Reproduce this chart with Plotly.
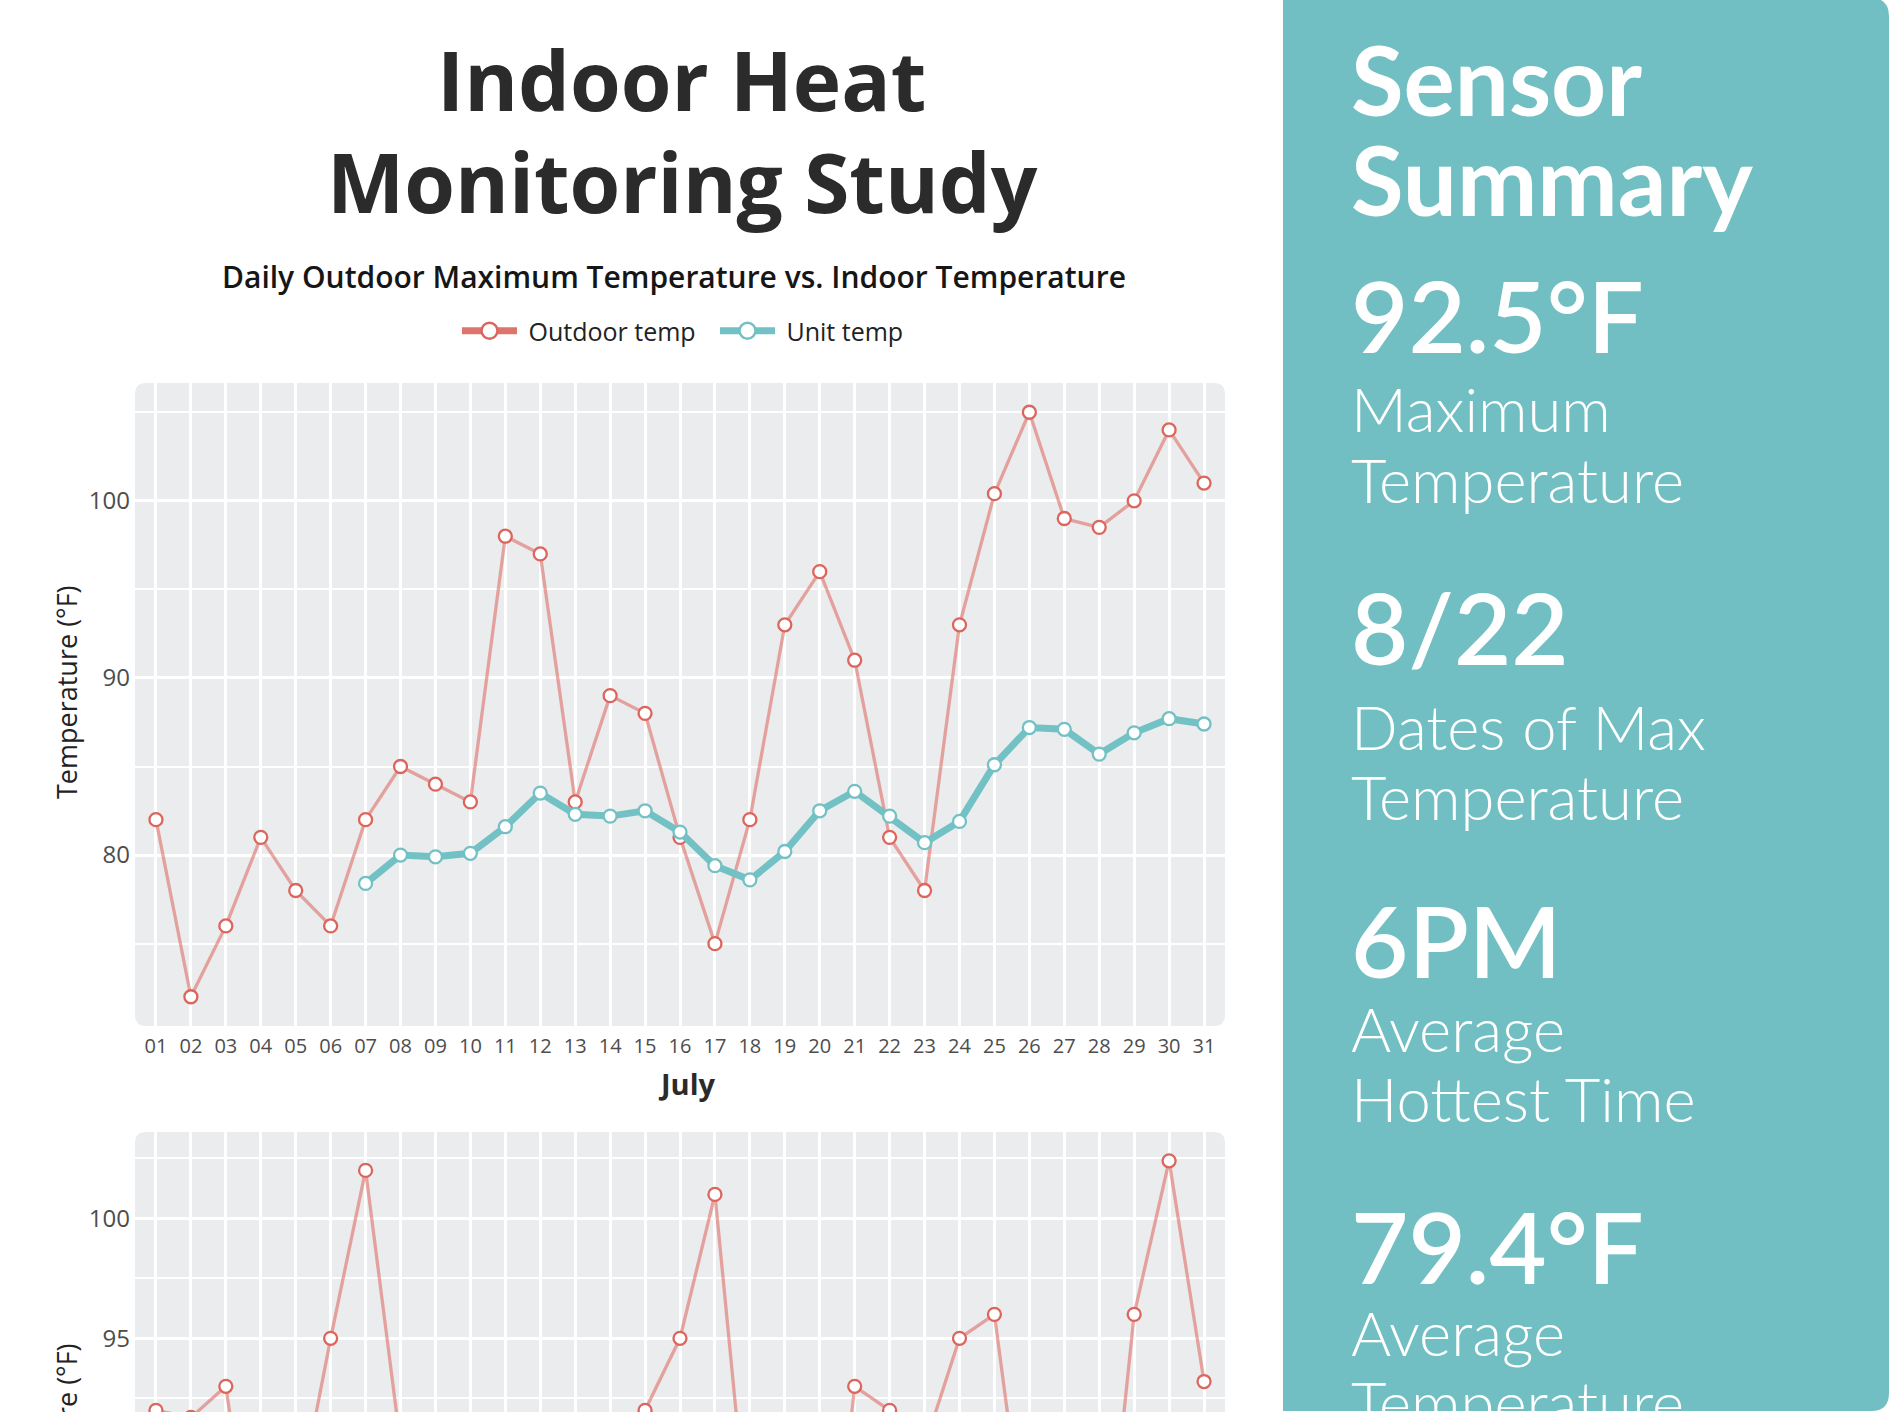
import plotly.graph_objects as go

W, H = 1891, 1412

# ---------------- data ----------------
days = list(range(1, 32))
day_labels = ["01", "02", "03", "04", "05", "06", "07", "08", "09", "10", "11", "12", "13", "14", "15", "16",
              "17", "18", "19", "20", "21", "22", "23", "24", "25", "26", "27", "28", "29", "30", "31"]

july_outdoor = [82, 72, 76, 81, 78, 76, 82, 85, 84, 83, 98, 97, 83, 89, 88, 81,
                75, 82, 93, 96, 91, 81, 78, 93, 100.4, 105, 99, 98.5, 100, 104, 101]
july_unit = [None, None, None, None, None, None, 78.4, 80.0, 79.9, 80.1, 81.6, 83.5, 82.3, 82.2, 82.5, 81.3,
             79.4, 78.6, 80.2, 82.5, 83.6, 82.2, 80.7, 81.9, 85.1, 87.2, 87.1, 85.7, 86.9, 87.7, 87.4]

second_outdoor = [92, 91.7, 93, 83, 87.5, 95, 102, 90.6, 88, 86, 89, 90, 87, 89, 92, 95,
                  101, 86, 83, 79.7, 93, 92, 90.5, 95, 96, 85, 84, 82, 96, 102.4, 93.2]

series_names = ["Outdoor temp", "Unit temp"]

summary_values = ["92.5°F", "8/22", "6PM", "79.4°F"]
summary_labels = [["Maximum", "Temperature"], ["Dates of Max", "Temperature"],
                  ["Average", "Hottest Time"], ["Average", "Temperature"]]

# ---------------- styling helpers ----------------
def fx(px):
    return px / W

def fy(py):
    return 1 - py / H

RED = "#DC655D"
RED_LINE = "rgba(221,106,98,0.58)"
TEAL = "#72C1C4"
PANEL = "#72BFC3"
PLOTBG = "#EBECEE"
TXT = "#4D4D4D"

PL, PR = 135, 1225          # plot left/right (px)
T1, B1 = 383, 1026          # top plot
T2, B2 = 1132, 1412         # second plot (cut by the page)

fig = go.Figure()

fig.add_trace(go.Scatter(
    x=days, y=july_outdoor, mode="lines+markers", name=series_names[0],
    line=dict(color=RED_LINE, width=3.3),
    marker=dict(size=13, color="white", line=dict(color=RED, width=2.3)),
    showlegend=False, xaxis="x", yaxis="y"))
fig.add_trace(go.Scatter(
    x=days, y=july_unit, mode="lines+markers", name=series_names[1],
    line=dict(color=TEAL, width=7),
    marker=dict(size=13, color="white", line=dict(color=TEAL, width=2.3)),
    showlegend=False, xaxis="x", yaxis="y"))
fig.add_trace(go.Scatter(
    x=days, y=second_outdoor, mode="lines+markers", name=series_names[0],
    line=dict(color=RED_LINE, width=3.3),
    marker=dict(size=13, color="white", line=dict(color=RED, width=2.3)),
    showlegend=False, xaxis="x2", yaxis="y2"))

# legend entries
fig.add_trace(go.Scatter(
    x=[None], y=[None], mode="lines+markers", name="\u00a0" + series_names[0],
    line=dict(color="#DD756E", width=7),
    marker=dict(size=16, color="white", line=dict(color=RED, width=2.5)),
    xaxis="x", yaxis="y"))
fig.add_trace(go.Scatter(
    x=[None], y=[None], mode="lines+markers", name="\u00a0" + series_names[1],
    line=dict(color=TEAL, width=7),
    marker=dict(size=16, color="white", line=dict(color=TEAL, width=2.5)),
    xaxis="x", yaxis="y"))

# ---------------- shapes ----------------
def rrect(x0, y0, x1, y1, r, top=True, bottom=True, left=True, right=True):
    def P(x, y):
        return f"{fx(x):.6f},{fy(y):.6f}"
    rtl = r if (top and left) else 0
    rtr = r if (top and right) else 0
    rbr = r if (bottom and right) else 0
    rbl = r if (bottom and left) else 0
    d = f"M {P(x0 + rtl, y0)} L {P(x1 - rtr, y0)} "
    if rtr:
        d += f"Q {P(x1, y0)} {P(x1, y0 + rtr)} "
    d += f"L {P(x1, y1 - rbr)} "
    if rbr:
        d += f"Q {P(x1, y1)} {P(x1 - rbr, y1)} "
    d += f"L {P(x0 + rbl, y1)} "
    if rbl:
        d += f"Q {P(x0, y1)} {P(x0, y1 - rbl)} "
    d += f"L {P(x0, y0 + rtl)} "
    if rtl:
        d += f"Q {P(x0, y0)} {P(x0 + rtl, y0)} "
    d += "Z"
    return d

shapes = [
    dict(type="path", xref="paper", yref="paper", layer="below",
         path=rrect(1283, -2, 1889, 1411, 18, left=False),
         fillcolor=PANEL, line=dict(width=0)),
    dict(type="path", xref="paper", yref="paper", layer="below",
         path=rrect(PL, T1, PR, B1, 11),
         fillcolor=PLOTBG, line=dict(width=0)),
    dict(type="path", xref="paper", yref="paper", layer="below",
         path=rrect(PL, T2, PR, B2 + 40, 11, bottom=False),
         fillcolor=PLOTBG, line=dict(width=0)),
]

# ---------------- annotations ----------------
ann = []

def text(t, x, y, size, color, family="Open Sans", weight=400, xanchor="center", angle=0):
    ann.append(dict(text=t, x=fx(x), y=fy(y), xref="paper", yref="paper",
                    xanchor=xanchor, yanchor="middle", showarrow=False, textangle=angle,
                    font=dict(family=family, size=size, color=color, weight=weight)))

text("Indoor Heat", 681, 79, 82, "#2B2B2B", weight=700)
text("Monitoring Study", 682, 181, 82, "#2B2B2B", weight=700)
text("Daily Outdoor Maximum Temperature vs. Indoor Temperature", 674, 276, 30, "#161616", weight=600)
text("July", 687, 1083, 29, "#2B2B2B", weight=700)
text("Temperature (°F)", 66, 692, 27, "#222222", angle=-90)
text("Temperature (°F)", 66, 1450, 27, "#222222", angle=-90)

# sensor summary panel
PX = 1349
text("Sensor", PX, 79, 96, "white", family="Lato", weight=700, xanchor="left")
text("Summary", PX, 178, 96, "white", family="Lato", weight=700, xanchor="left")
val_y = [314, 626, 939, 1245]
lab_y = [[408, 479], [726, 796], [1028, 1098], [1332, 1402]]
for v, vy, labs, ly in zip(summary_values, val_y, summary_labels, lab_y):
    text(v, PX, vy, 99, "white", family="Lato", weight=600, xanchor="left")
    for l, yy in zip(labs, ly):
        text(l, PX, yy, 61.5, "white", family="Lato", weight=300, xanchor="left")

# ---------------- axes ----------------
grid = dict(showgrid=True, gridcolor="white", zeroline=False, showline=False, ticks="")

fig.update_layout(
    width=W, height=H,
    margin=dict(l=0, r=0, t=0, b=0),
    paper_bgcolor="white", plot_bgcolor="rgba(0,0,0,0)",
    font=dict(family="Open Sans", color=TXT),
    shapes=shapes, annotations=ann,
    legend=dict(orientation="h", x=fx(715), y=fy(331), xanchor="center", yanchor="middle",
                font=dict(family="Open Sans", size=25, color="#222222"),
                bgcolor="rgba(0,0,0,0)", itemwidth=55, entrywidth=188, entrywidthmode="pixels"),
    xaxis=dict(domain=[fx(PL), fx(PR)], anchor="y", range=[0.4, 31.6],
               tickmode="array", tickvals=days, ticktext=day_labels, gridwidth=2.6,
               tickfont=dict(family="Open Sans", size=20, color=TXT), ticklabelstandoff=6,
               automargin=False, **grid),
    yaxis=dict(domain=[fy(B1), fy(T1)], anchor="x", range=[70.35, 106.65],
               tick0=0, dtick=10, gridwidth=3,
               minor=dict(tick0=0, dtick=5, showgrid=True, gridcolor="white", gridwidth=1.6),
               tickfont=dict(family="Open Sans", size=24, color=TXT), ticklabelstandoff=4,
               automargin=False, **grid),
    xaxis2=dict(domain=[fx(PL), fx(PR)], anchor="y2", range=[0.4, 31.6],
                tickmode="array", tickvals=days, ticktext=day_labels, gridwidth=2.6,
                showticklabels=False, automargin=False, **grid),
    yaxis2=dict(domain=[0, fy(T2)], anchor="x2", range=[91.93, 103.6],
                tick0=0, dtick=5, gridwidth=3,
                minor=dict(tick0=0, dtick=2.5, showgrid=True, gridcolor="white", gridwidth=1.6),
                tickfont=dict(family="Open Sans", size=24, color=TXT), ticklabelstandoff=4,
                automargin=False, **grid),
)

fig.write_html("out.html", config={"displayModeBar": False},
               post_script="document.body.style.margin='0';document.body.style.overflow='hidden';")
